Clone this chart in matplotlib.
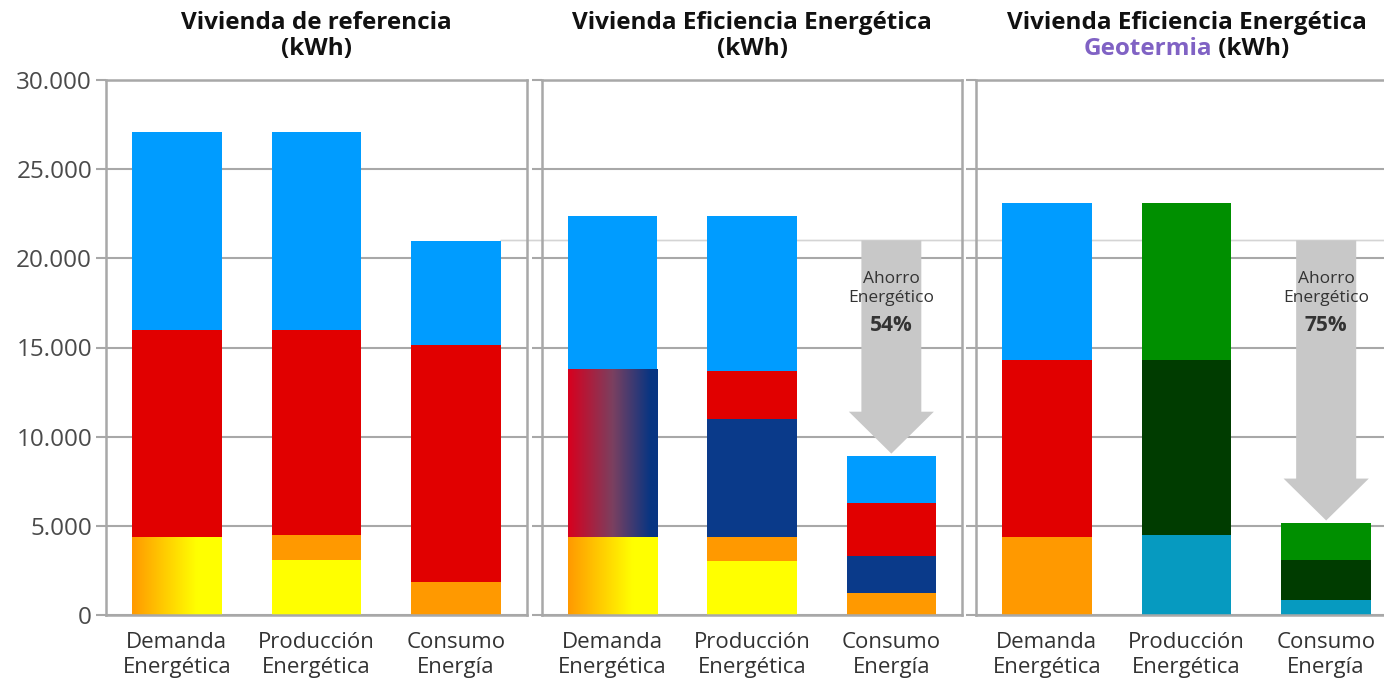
"""Demanda / producción / consumo de energía en tres viviendas (kWh)."""

import matplotlib

matplotlib.use("Agg")
import matplotlib.pyplot as plt
import numpy as np
from matplotlib.colors import LinearSegmentedColormap
from matplotlib.patches import ConnectionPatch, FancyArrow
from matplotlib.ticker import FuncFormatter

plt.rcParams["font.family"] = ["Open Sans", "DejaVu Sans"]

# --- datos -----------------------------------------------------------------
categories = ["Demanda\nEnergética", "Producción\nEnergética", "Consumo\nEnergía"]
yticks = [0, 5000, 10000, 15000, 20000, 25000, 30000]

# alturas de cada tramo (de abajo arriba) por barra
ref_segments = [[4400, 11600, 11100], [3100, 1400, 11500, 11100], [1850, 13300, 5850]]
ref_colors = [["sun", "red", "blue"], ["yellow", "orange", "red", "blue"],
              ["orange", "red", "blue"]]

eff_segments = [[4400, 9400, 8600], [3050, 1350, 6600, 2700, 8650], [1250, 2050, 3000, 2600]]
eff_colors = [["sun", "redblue", "blue"], ["yellow", "orange", "navy", "red", "blue"],
              ["orange", "navy", "red", "blue"]]

geo_segments = [[4400, 9900, 8800], [4500, 9800, 8800], [850, 2250, 2050]]
geo_colors = [["orange", "red", "blue"], ["teal", "dkgreen", "green"],
              ["teal", "dkgreen", "green"]]

savings = [None, "54%", "75%"]

PALETTE = {
    "blue": "#009CFF", "red": "#E10000", "orange": "#FF9900", "yellow": "#FFFF00",
    "navy": "#0A3A8A", "green": "#008F00", "dkgreen": "#003C00", "teal": "#069AC0",
}
GRADIENTS = {
    "sun": LinearSegmentedColormap.from_list(
        "sun", [(0, "#FF9900"), (0.72, "#FFFF00"), (1, "#FFFF00")]),
    "redblue": LinearSegmentedColormap.from_list(
        "redblue", [(0, "#D8001E"), (0.5, "#7A4060"), (0.92, "#073582"), (1, "#073582")]),
}
GRAY = "#A8A8A8"
BAR_W = 0.643
XLIM = (-0.507, 2.507)
YMAX = 30000

# --- figura ------------------------------------------------------------------
W, H = 1384, 683
fig = plt.figure(figsize=(W / 100, H / 100), dpi=100)
bottom, top = 615, 80
panel_px = [(106, 527), (542, 962), (976, 1397)]
axes = [fig.add_axes([l / W, (H - bottom) / H, (r - l) / W, (bottom - top) / H])
        for l, r in panel_px]

panels = [(ref_segments, ref_colors), (eff_segments, eff_colors), (geo_segments, geo_colors)]
x = np.arange(len(categories))

for i, (ax, (segs, cols)) in enumerate(zip(axes, panels)):
    ax.patch.set_alpha(0)
    for xi, bar_segs, bar_cols in zip(x, segs, cols):
        base = 0
        for h, c in zip(bar_segs, bar_cols):
            if c in GRADIENTS:
                ax.imshow(np.linspace(0, 1, 256)[None, :], cmap=GRADIENTS[c], aspect="auto",
                          interpolation="bilinear", zorder=2,
                          extent=(xi - BAR_W / 2, xi + BAR_W / 2, base, base + h))
            else:
                ax.bar(xi, h, bottom=base, width=BAR_W, color=PALETTE[c], lw=0, zorder=2)
            base += h

    if savings[i]:
        ref_total = sum(ref_segments[2])
        target = sum(segs[2]) + 150
        ax.add_patch(FancyArrow(2, ref_total, 0, target - ref_total, width=0.43,
                                head_width=0.61, head_length=2350,
                                length_includes_head=True, color="#C8C8C8", lw=0, zorder=3))
        ax.text(2, 18300, "Ahorro\nEnergético", ha="center", va="center", fontsize=12.5,
                color="#333333", linespacing=1.2, zorder=4)
        ax.text(2, 16250, savings[i], ha="center", va="center", fontsize=15,
                fontweight="bold", color="#333333", zorder=4)

    ax.set_xlim(*XLIM)
    ax.set_ylim(0, YMAX)
    ax.set_xticks(x)
    ax.set_xticklabels(categories, fontsize=16, color="#333333", linespacing=1.3)
    ax.tick_params(axis="x", length=0, pad=12)
    ax.set_yticks(yticks)
    ax.tick_params(axis="y", direction="out", length=7, width=1.5, color=GRAY,
                   labelsize=17.5, labelcolor="#4A4A4A", pad=3)
    ax.yaxis.set_major_formatter(FuncFormatter(lambda v, _: f"{v:,.0f}".replace(",", ".")))
    if i > 0:
        ax.tick_params(axis="y", labelleft=False)
    ax.yaxis.grid(True, color=GRAY, lw=1.5)
    ax.set_axisbelow(True)
    for sp in ax.spines.values():
        sp.set_color(GRAY)
        sp.set_linewidth(1.8)

# línea de referencia: consumo de la vivienda de referencia
ref_total = sum(ref_segments[2])
line = ConnectionPatch((2 + BAR_W / 2, ref_total), (XLIM[1], ref_total), "data", "data",
                       axesA=axes[0], axesB=axes[2], color="#D4D4D4", lw=1.2, zorder=-1)
fig.add_artist(line)

# títulos
title_kw = dict(xycoords="axes fraction", textcoords="offset pixels", ha="center",
                va="center", fontsize=17.5, fontweight="bold", color="#111111")
axes[0].annotate("Vivienda de referencia", (0.5, 1), xytext=(0, 57), **title_kw)
axes[0].annotate("(kWh)", (0.5, 1), xytext=(0, 31), **title_kw)
axes[1].annotate("Vivienda Eficiencia Energética", (0.5, 1), xytext=(0, 57), **title_kw)
axes[1].annotate("(kWh)", (0.5, 1), xytext=(0, 31), **title_kw)
axes[2].annotate("Vivienda Eficiencia Energética", (0.5, 1), xytext=(0, 57), **title_kw)
geo = axes[2].annotate("Geotermia", (0.5, 1), xytext=(0, 31),
                       **{**title_kw, "ha": "left", "color": "#8062C4"})
kwh = axes[2].annotate(" (kWh)", (0.5, 1), xytext=(0, 31), **{**title_kw, "ha": "left"})
fig.canvas.draw()
r = fig.canvas.get_renderer()
w1 = geo.get_window_extent(r).width
w2 = kwh.get_window_extent(r).width
geo.xyann = (-(w1 + w2) / 2, 31)
kwh.xyann = (-(w1 + w2) / 2 + w1, 31)

fig.savefig("out.png", dpi=100)
